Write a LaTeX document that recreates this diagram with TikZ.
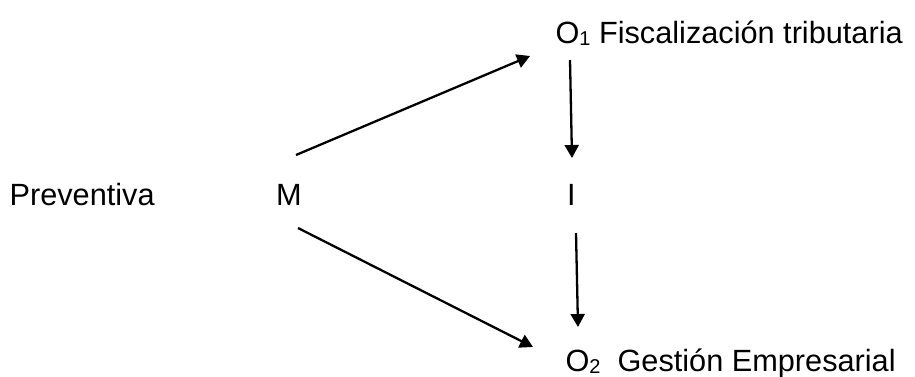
\documentclass[tikz,border=0pt]{standalone}
\usepackage{fontspec}
\setmainfont{Liberation Sans}
\usetikzlibrary{arrows.meta}
\newcommand{\subdig}[1]{\raisebox{-2pt}{\fontsize{20}{20}\selectfont #1}}
\begin{document}
\begin{tikzpicture}[x=1pt,y=-1pt,
  lbl/.style={anchor=base west,inner sep=0pt,outer sep=0pt,font=\fontsize{30.7}{36}\selectfont},
  conn/.style={line width=2.3pt,-{Triangle[length=13pt,width=14pt]}},
  plain/.style={line width=2.3pt}]
\useasboundingbox (0,0) rectangle (915,376);
\node[lbl] (prev) at (9.6,205) {Preventiva};
\node[lbl] (m) at (276,205) {M};
\node[lbl] (i) at (567,205) {I};
\node[lbl] (o1) at (555.5,43) {O\subdig{1} Fiscalización tributaria};
\node[lbl] (o2) at (565.5,371) {O\subdig{2}\ \ Gestión Empresarial};
\coordinate (mUp) at (296,155);
\coordinate (o1In) at (530,56);
\coordinate (o1Out) at (570,60);
\coordinate (iIn) at (572,158);
\coordinate (iOut) at (576,233);
\coordinate (o2In) at (578,327);
\coordinate (mDown) at (298,228);
\coordinate (o2InD) at (533,347);
\draw[conn] (mUp) -- (o1In);
\draw[conn] (o1Out) -- (iIn);
\draw[conn] (iOut) -- (o2In);
\draw[conn] (mDown) -- (o2InD);
\end{tikzpicture}
\end{document}
